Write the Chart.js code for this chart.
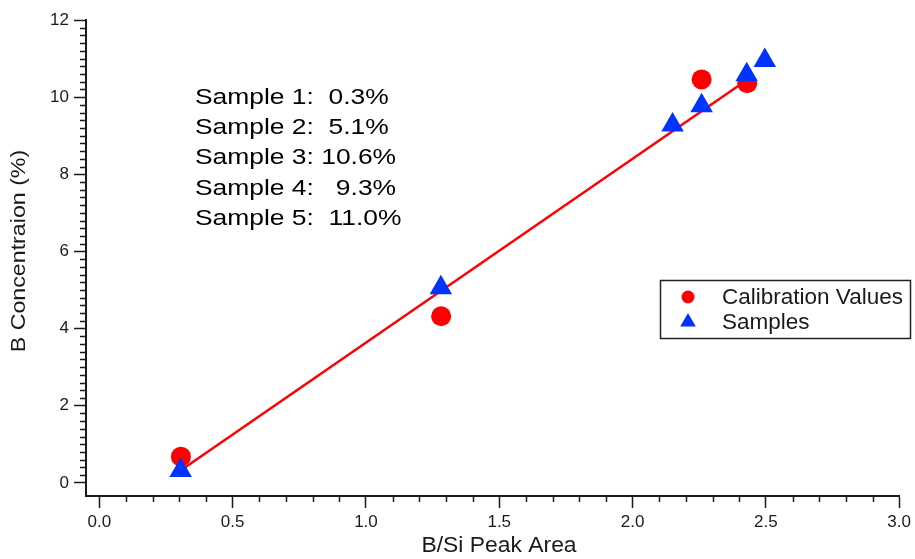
<!DOCTYPE html>
<html>
<head>
<meta charset="utf-8">
<script src="https://cdn.jsdelivr.net/npm/chart.js@4.4.1/dist/chart.umd.min.js"></script>
<style>
  html, body { margin: 0; padding: 0; background: #fff; }
</style>
</head>
<body>
<canvas id="chart" width="915" height="559"></canvas>
<script>
const calibX = [0.306, 1.282, 2.259, 2.430];
const calibY = [0.68, 4.32, 10.46, 10.36];
const sampleX = [0.305, 1.281, 2.150, 2.259, 2.428, 2.496];
const sampleY = [0.32, 5.06, 9.28, 9.78, 10.58, 10.95];
const fitX = [0.306, 2.430];
const fitY = [0.33, 10.45];
const seriesNames = ['Calibration Values', 'Samples'];
const sampleNotes = ['Sample 1:  0.3%', 'Sample 2:  5.1%', 'Sample 3: 10.6%', 'Sample 4:   9.3%', 'Sample 5:  11.0%'];
const xTickLabels = ['0.0', '0.5', '1.0', '1.5', '2.0', '2.5', '3.0'];
const yTickLabels = ['0', '2', '4', '6', '8', '10', '12'];
const xTitle = 'B/Si Peak Area';
const yTitle = 'B Concentraion (%)';

const FONT = 'Liberation Sans, Arial, sans-serif';
const INK = '#1a1a1a';
const RED = '#ff0000';
const BLUE = 'rgb(0,51,255)';

// tick positions: minor every 0.1 on x, every 0.2 on y
const xTicks = [];
for (let i = 0; i <= 30; i++) xTicks.push(i / 10);
const yTicks = [];
for (let i = 0; i <= 60; i++) yTicks.push(Math.round(i * 2) / 10);
const xMajor = v => Math.abs(v * 2 - Math.round(v * 2)) < 1e-6;
const yMajor = v => Math.abs(v / 2 - Math.round(v / 2)) < 1e-6;

const pts = (xs, ys) => xs.map((x, i) => ({ x, y: ys[i] }));

const extras = {
  id: 'extras',
  afterDraw(chart) {
    const { ctx, scales: { x, y } } = chart;
    ctx.save();
    // minor ticks
    ctx.strokeStyle = INK;
    ctx.lineWidth = 1.5;
    ctx.beginPath();
    xTicks.filter(v => !xMajor(v)).forEach(v => {
      const px = Math.round(x.getPixelForValue(v)) + 0.5;
      ctx.moveTo(px, y.bottom);
      ctx.lineTo(px, y.bottom + 6);
    });
    yTicks.filter(v => !yMajor(v)).forEach(v => {
      const py = Math.round(y.getPixelForValue(v)) + 0.5;
      ctx.moveTo(x.left - 6, py);
      ctx.lineTo(x.left, py);
    });
    ctx.stroke();

    // axis titles (text is a little stretched along its run in the original)
    ctx.fillStyle = INK;
    ctx.textAlign = 'center';
    ctx.textBaseline = 'middle';
    ctx.font = '22px ' + FONT;
    ctx.save();
    ctx.translate(499, 546);
    ctx.scale(1.04, 1);
    ctx.fillText(xTitle, 0, 0);
    ctx.restore();
    ctx.font = '20px ' + FONT;
    ctx.save();
    ctx.translate(19, 251);
    ctx.rotate(-Math.PI / 2);
    ctx.scale(1.16, 1);
    ctx.fillText(yTitle, 0, 0);
    ctx.restore();

    // sample notes
    ctx.textAlign = 'left';
    ctx.fillStyle = '#000';
    ctx.font = '22px ' + FONT;
    ctx.textBaseline = 'alphabetic';
    sampleNotes.forEach((t, i) => {
      ctx.save();
      ctx.translate(195, 104 + i * 30.2);
      ctx.scale(1.2, 1);
      ctx.fillText(t, 0, 0);
      ctx.restore();
    });

    // legend box
    ctx.lineWidth = 1.5;
    ctx.strokeStyle = '#222';
    ctx.strokeRect(660.5, 280.5, 250, 58);
    ctx.font = '22.5px ' + FONT;
    ctx.textBaseline = 'middle';
    const ds = chart.data.datasets;
    seriesNames.forEach((name, i) => {
      const cy = 297 + i * 25;
      ctx.fillStyle = ds[i].backgroundColor;
      ctx.beginPath();
      if (ds[i].pointStyle === 'triangle') {
        const r = 9;
        ctx.moveTo(688, cy - r);
        ctx.lineTo(688 + r * 0.866, cy + r / 2);
        ctx.lineTo(688 - r * 0.866, cy + r / 2);
        ctx.closePath();
      } else {
        ctx.arc(688, cy, 6.5, 0, Math.PI * 2);
      }
      ctx.fill();
      ctx.fillStyle = INK;
      ctx.fillText(name, 722, cy + 1);
    });
    ctx.restore();
  }
};

new Chart(document.getElementById('chart'), {
  type: 'scatter',
  data: {
    datasets: [
      { label: seriesNames[0], data: pts(calibX, calibY), order: 1,
        pointStyle: 'circle', pointRadius: 10, backgroundColor: RED, borderWidth: 0 },
      { label: seriesNames[1], data: pts(sampleX, sampleY), order: 0,
        pointStyle: 'triangle', pointRadius: 13, backgroundColor: BLUE, borderWidth: 0 },
      { label: 'Fit', data: pts(fitX, fitY), order: 2, showLine: true,
        pointRadius: 0, borderColor: RED, borderWidth: 2.5, backgroundColor: RED }
    ]
  },
  options: {
    responsive: false,
    devicePixelRatio: 1,
    animation: false,
    layout: { padding: { left: 0, right: 12, top: 20, bottom: 0 } },
    plugins: { legend: { display: false }, tooltip: { enabled: false } },
    scales: {
      x: {
        type: 'linear', min: -0.05, max: 3.0,
        afterBuildTicks: s => { s.ticks = xTicks.map(v => ({ value: v })); },
        afterFit: s => { s.height = 63; },
        ticks: {
          autoSkip: false, maxRotation: 0, padding: 4, color: INK,
          font: { family: FONT, size: 17 },
          callback: v => xMajor(v) ? xTickLabels[Math.round(v * 2)] : ''
        },
        grid: {
          drawOnChartArea: false, tickLength: 12, tickWidth: 1.5,
          tickColor: c => xMajor(c.tick.value) ? INK : 'rgba(0,0,0,0)'
        },
        border: { color: INK, width: 2 },
        title: { display: false }
      },
      y: {
        type: 'linear', min: -0.34, max: 12,
        afterBuildTicks: s => { s.ticks = yTicks.map(v => ({ value: v })); },
        afterFit: s => { s.width = 86; },
        ticks: {
          autoSkip: false, padding: 5, color: INK,
          font: { family: FONT, size: 17 },
          callback: v => yMajor(v) ? yTickLabels[Math.round(v / 2)] : ''
        },
        grid: {
          drawOnChartArea: false, tickLength: 12, tickWidth: 1.5,
          tickColor: c => yMajor(c.tick.value) ? INK : 'rgba(0,0,0,0)'
        },
        border: { color: INK, width: 2 },
        title: { display: false }
      }
    }
  },
  plugins: [extras]
});
</script>
</body>
</html>
